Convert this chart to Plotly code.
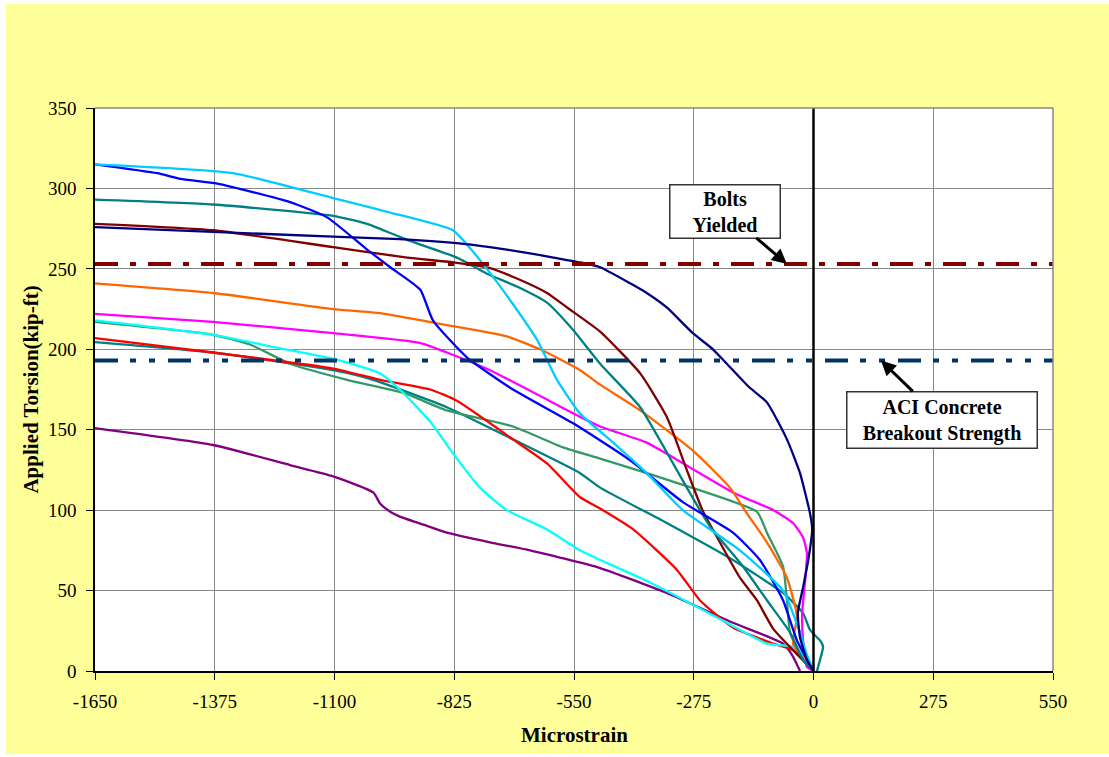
import plotly.graph_objects as go

# Axis ticks
x_ticks = [-1650, -1375, -1100, -825, -550, -275, 0, 275, 550]
x_tick_labels = ["-1650", "-1375", "-1100", "-825", "-550", "-275", "0", "275", "550"]
y_ticks = [0, 50, 100, 150, 200, 250, 300, 350]
y_tick_labels = ["0", "50", "100", "150", "200", "250", "300", "350"]

# Reference load levels (kip-ft)
bolts_yield = 253
aci_breakout = 193

# Gauge readings: microstrain vs applied torsion (kip-ft)
navy_x = [0, -15, -31, -36, -24, -12, -3, -8, -31, -61, -107, -150, -199, -231, -277, -337, -383, -421, -490, -536, -597, -658, -743, -819, -950, -1103, -1379, -1650]
navy_y = [0, 7, 21, 36, 52, 69, 88, 98, 123, 144, 167, 177, 191, 200, 210, 226, 235, 241, 251, 254, 257, 260, 263.5, 266, 268.5, 270, 273, 276]

sky_x = [0, -15, -31, -70, -169, -300, -383, -460, -536, -589, -635, -690, -736, -789, -828, -972, -1103, -1333, -1650]
sky_y = [0, 10, 24, 50, 75, 100, 123, 142, 160, 181, 206, 228, 245, 263, 274, 285, 294, 309.5, 315]

blue_x = [0, -38, -70, -123, -185, -300, -421, -552, -690, -796, -874, -903, -972, -1025, -1117, -1202, -1369, -1454, -1507, -1650]
blue_y = [0, 19, 44, 69, 86, 105, 131, 154, 175, 195, 218, 237, 251, 262, 282, 291.5, 303, 306, 309.5, 315]

teal_x = [0, -24, -54, -107, -162, -238, -291, -337, -398, -490, -552, -612, -681, -750, -819, -933, -1025, -1103, -1379, -1650]
teal_y = [0, 7, 24, 44, 65, 90, 114, 136, 164, 191, 212, 229, 239, 247, 257, 268, 278, 283, 290, 293]

maroon_x = [0, -47, -92, -130, -169, -215, -255, -291, -337, -398, -490, -566, -612, -681, -743, -827, -933, -1103, -1379, -1650]
maroon_y = [0, 13, 26, 44, 58, 80, 100, 125, 158, 185, 211, 226, 235, 244, 250.5, 254, 257, 263.5, 274, 278]

orange_x = [0, -15, -47, -38, -61, -107, -153, -192, -277, -398, -490, -536, -628, -704, -842, -995, -1103, -1379, -1650]
orange_y = [0, 5, 17, 34, 58, 80, 98, 114, 137, 162, 178, 187, 200, 208, 215, 222.5, 225, 235, 241]

magenta_x = [0, -15, -24, -26, -19, -15, -24, -47, -92, -185, -337, -383, -490, -536, -743, -842, -904, -1103, -1379, -1650]
magenta_y = [0, 2.5, 19, 36, 57, 73, 83, 92, 100, 111, 135, 142, 152, 158, 187, 198, 204, 210, 217, 222]

cyan_x = [0, -15, -47, -107, -199, -375, -490, -536, -612, -704, -766, -827, -880, -950, -995, -1087, -1232, -1379, -1650]
cyan_y = [0, 8, 15, 17, 30, 55, 69, 75, 88, 100, 114, 135, 155, 175, 185, 193, 201, 209, 218]

green_x = [0, -31, -54, -61, -70, -107, -130, -337, -490, -575, -690, -842, -943, -1071, -1202, -1294, -1379, -1650]
green_y = [0, 11, 24, 44, 65, 86, 99, 119, 132, 139, 152, 162, 173, 181, 191, 203, 209, 217]

teal2_x = [8, 15, 22, 15, -8, -24, -70, -185, -337, -490, -536, -690, -842, -1011, -1103, -1379, -1650]
teal2_y = [0, 7, 15, 19, 25.5, 36, 48.5, 69, 92, 114, 123, 144, 164, 181, 187, 198, 204.5]

red_x = [0, -47, -92, -185, -261, -314, -414, -490, -536, -612, -690, -819, -880, -995, -1103, -1379, -1650]
red_y = [0, 13, 17, 27, 44, 63, 88, 101, 108, 129, 144, 168, 175, 181, 188, 198, 207]

purple_x = [-31, -47, -70, -185, -337, -490, -651, -743, -842, -896, -950, -972, -995, -1011, -1103, -1202, -1379, -1650]
purple_y = [0, 9, 17, 30, 48.5, 64, 75, 80, 86, 91, 96, 99, 104, 111, 121, 128, 140.5, 151]

series = [
    (purple_x, purple_y, "#800080"),
    (teal2_x, teal2_y, "#008080"),
    (green_x, green_y, "#339966"),
    (red_x, red_y, "#FF0000"),
    (cyan_x, cyan_y, "#00FFFF"),
    (magenta_x, magenta_y, "#FF00FF"),
    (orange_x, orange_y, "#FF6600"),
    (maroon_x, maroon_y, "#800000"),
    (teal_x, teal_y, "#008080"),
    (blue_x, blue_y, "#0000FF"),
    (sky_x, sky_y, "#00CCFF"),
    (navy_x, navy_y, "#000080"),
]

FONT = "Times New Roman, Liberation Serif, serif"

fig = go.Figure()

for sx, sy, col in series:
    fig.add_trace(go.Scatter(
        x=sx, y=sy, mode="lines",
        line=dict(color=col, width=2.3, shape="spline", smoothing=0.5),
        hoverinfo="skip",
    ))

# Zero-strain line
fig.add_trace(go.Scatter(
    x=[0, 0], y=[0, 350], mode="lines",
    line=dict(color="black", width=2.5), hoverinfo="skip",
))

# Bolt yield and ACI breakout levels
fig.add_trace(go.Scatter(
    x=[x_ticks[0], x_ticks[-1]], y=[bolts_yield, bolts_yield], mode="lines",
    line=dict(color="#800000", width=4, dash="23px,12px,6px,12px"), hoverinfo="skip",
))
fig.add_trace(go.Scatter(
    x=[x_ticks[0], x_ticks[-1]], y=[aci_breakout, aci_breakout], mode="lines",
    line=dict(color="#003366", width=4, dash="23px,12px,6px,13px,6px,13px"), hoverinfo="skip",
))

axis_common = dict(
    showgrid=True, gridcolor="#888888", gridwidth=1,
    showline=True, linecolor="black", linewidth=1.5,
    ticks="outside", ticklen=7, tickcolor="black", tickwidth=1.2,
    tickfont=dict(family=FONT, size=19, color="black"),
    zeroline=False, mirror=False,
)

fig.update_xaxes(range=[-1650, 550], tickvals=x_ticks, ticktext=x_tick_labels,
                 ticklabelstandoff=5, **axis_common)
fig.update_yaxes(range=[0, 350], tickvals=y_ticks, ticktext=y_tick_labels,
                 ticklabelstandoff=6, **axis_common)

shapes = [
    # gray frame on the top and right of the plot area
    dict(type="line", xref="paper", yref="paper", x0=0, x1=1, y0=1, y1=1,
         line=dict(color="#888888", width=1.5)),
    dict(type="line", xref="paper", yref="paper", x0=1, x1=1, y0=0, y1=1,
         line=dict(color="#888888", width=1.5)),
    # thin white margin around the page
    dict(type="rect", xref="paper", yref="paper", x0=-0.2, x1=-0.0929, y0=-0.3, y1=1.3,
         line=dict(width=0), fillcolor="white", layer="above"),
    dict(type="rect", xref="paper", yref="paper", x0=-0.2, x1=1.2, y0=1.1847, y1=1.3,
         line=dict(width=0), fillcolor="white", layer="above"),
    dict(type="rect", xref="paper", yref="paper", x0=-0.2, x1=1.2, y0=-0.3, y1=-0.1474,
         line=dict(width=0), fillcolor="white", layer="above"),
]

annotations = [
    dict(x=-61, y=bolts_yield, xref="x", yref="y", ax=-62, ay=-53,
         text="<b>Bolts<br>Yielded</b>", showarrow=True,
         arrowhead=2, arrowsize=1, arrowwidth=3, arrowcolor="black",
         font=dict(family=FONT, size=20, color="black"),
         bgcolor="white", bordercolor="#333333", borderwidth=1.5, borderpad=1,
         width=107, height=50),
    dict(x=155, y=aci_breakout, xref="x", yref="y", ax=61, ay=59,
         text="<b>ACI Concrete<br>Breakout Strength</b>", showarrow=True,
         arrowhead=2, arrowsize=1, arrowwidth=3, arrowcolor="black",
         font=dict(family=FONT, size=20, color="black"),
         bgcolor="white", bordercolor="#333333", borderwidth=1.5, borderpad=1,
         width=187, height=53),
    dict(x=0.5, y=-0.1137, xref="paper", yref="paper", showarrow=False,
         text="<b>Microstrain</b>", xanchor="center", yanchor="middle",
         font=dict(family=FONT, size=21, color="black")),
    dict(x=-0.0678, y=0.5, xref="paper", yref="paper", showarrow=False,
         text="<b>Applied Torsion(kip-ft)</b>", textangle=-90,
         xanchor="center", yanchor="middle",
         font=dict(family=FONT, size=21, color="black")),
]

fig.update_layout(
    width=1109, height=757,
    margin=dict(l=95, r=56, t=108, b=86),
    paper_bgcolor="#FFFF99", plot_bgcolor="white",
    showlegend=False,
    shapes=shapes, annotations=annotations,
)

fig.write_html("out.html")
